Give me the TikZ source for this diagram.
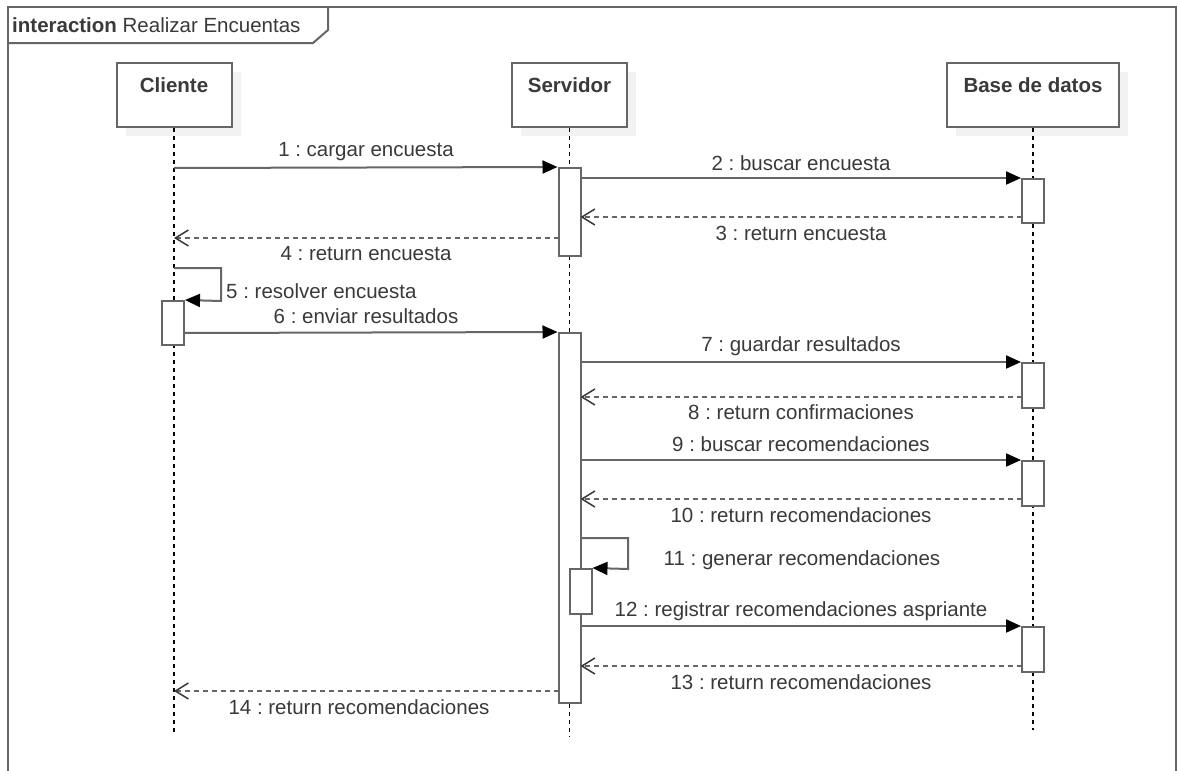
\documentclass[tikz,border=0pt]{standalone}
\usepackage{fontspec}
\setmainfont{Liberation Sans}
\usetikzlibrary{arrows.meta,shadows}
\definecolor{ln}{HTML}{666666}
\definecolor{tx}{HTML}{3A3A3A}
\definecolor{shd}{HTML}{F2F2F2}
\begin{document}
\frenchspacing
\begin{tikzpicture}[x=1pt,y=-1pt,
  every node/.style={text=tx, font=\fontsize{20.5}{24}\selectfont},
  head/.style={draw=ln, line width=2pt, fill=white, minimum width=115pt, inner xsep=0pt, inner ysep=0pt,
    text height=29pt, text depth=35pt, font=\fontsize{20.5}{24}\selectfont\bfseries,
    drop shadow={shadow xshift=9pt, shadow yshift=-9pt, fill=shd, opacity=1}},
  bar/.style={draw=ln, line width=2pt, fill=white, minimum width=22pt, inner sep=0pt},
  lifeline/.style={black, line width=1.5pt, dash pattern=on 4pt off 4pt},
  msg/.style={draw=ln, line width=2pt, -{Triangle[length=15pt,width=13pt,color=black]}},
  ret/.style={draw=ln, line width=2pt, dash pattern=on 5pt off 4pt, -{Straight Barb[length=13pt,width=16pt,line width=1.5pt,color=tx]}},
  lbl/.style={inner sep=0pt},
  frm/.style={draw=ln, line width=2pt}]
\useasboundingbox (0,0) rectangle (1178,771);
\fill[white] (0,0) rectangle (1178,771);

% frame
\draw[frm] (8,775) -- (8,7) -- (1176,7) -- (1176,775);
\draw[frm] (8,43) -- (313,43) -- (328,30) -- (328,7);
\node[anchor=base west, inner sep=0pt] (title) at (12,32) {\textbf{interaction} Realizar Encuentas};

% lifeline heads
\node[head] (cli) at (174,95) {Cliente};
\node[head] (srv) at (569.5,95) {Servidor};
\node[head, minimum width=172pt] (db) at (1033,95) {Base de datos};

% lifeline ends
\coordinate (cliend) at (174,735);
\coordinate (srvend) at (569.5,737);
\coordinate (dbend) at (1033,730);
\draw[lifeline] (cli.south) -- (cliend);
\draw[lifeline] (srv.south) -- (srvend);
\draw[lifeline] (db.south) -- (dbend);

% activation bars
\node[bar, minimum height=88pt] (sb1) at (569.5,212) {};
\node[bar, minimum height=44pt] (db1) at (1033,201) {};
\node[bar, minimum height=44pt] (cb1) at (173,323) {};
\node[bar, minimum height=370pt] (sb2) at (569.5,518) {};
\node[bar, minimum height=45pt] (db2) at (1033,385.5) {};
\node[bar, minimum height=45pt] (db3) at (1033,483.5) {};
\node[bar, minimum height=45pt] (sb3) at (580.5,591.5) {};
\node[bar, minimum height=45pt] (db4) at (1033,649.5) {};

% endpoints
\coordinate (m1a) at (174,168);
\coordinate (r3a) at (1022,217);
\coordinate (r3b) at (580.5,217);
\coordinate (r4a) at (558.5,238);
\coordinate (r4b) at (174,238);
\coordinate (s5a) at (174,268);
\coordinate (s5b) at (221,268);
\coordinate (s5c) at (221,301);
\coordinate (m6a) at (184,333);
\coordinate (r8a) at (1022,397);
\coordinate (r8b) at (580.5,397);
\coordinate (r10a) at (1022,499);
\coordinate (r10b) at (580.5,499);
\coordinate (s11a) at (580.5,538);
\coordinate (s11b) at (628,538);
\coordinate (s11c) at (628,569);
\coordinate (r13a) at (1022,666);
\coordinate (r13b) at (580.5,666);
\coordinate (r14a) at (558.5,691);
\coordinate (r14b) at (174,691);

% messages
\draw[msg] (m1a) -- (sb1.north west);
\draw[msg] (sb1.east |- db1.north) -- (db1.north west);
\draw[ret] (r3a) -- (r3b);
\draw[ret] (r4a) -- (r4b);
\draw[msg] (s5a) -- (s5b) -- (s5c) -- (cb1.north east);
\draw[msg] (m6a) -- (sb2.north west);
\draw[msg] (sb2.east |- db2.north) -- (db2.north west);
\draw[ret] (r8a) -- (r8b);
\draw[msg] (sb2.east |- db3.north) -- (db3.north west);
\draw[ret] (r10a) -- (r10b);
\draw[msg] (s11a) -- (s11b) -- (s11c) -- (sb3.north east);
\draw[msg] (sb2.east |- db4.north) -- (db4.north west);
\draw[ret] (r13a) -- (r13b);
\draw[ret] (r14a) -- (r14b);

% labels
\node[lbl] (l1) at (366,152) {1 : cargar encuesta};
\node[lbl] (l2) at (801,163) {2 : buscar encuesta};
\node[lbl] (l3) at (801,233) {3 : return encuesta};
\node[lbl] (l4) at (366,254) {4 : return encuesta};
\node[lbl, anchor=west] (l5) at (226,291) {5 : resolver encuesta};
\node[lbl] (l6) at (366,316) {6 : enviar resultados};
\node[lbl] (l7) at (801,346) {7 : guardar resultados};
\node[lbl] (l8) at (801,412) {8 : return confirmaciones};
\node[lbl] (l9) at (801,444) {9 : buscar recomendaciones};
\node[lbl] (l10) at (801,515) {10 : return recomendaciones};
\node[lbl] (l11) at (802,560) {11 : generar recomendaciones};
\node[lbl] (l12) at (801,611) {12 : registrar recomendaciones aspriante};
\node[lbl] (l13) at (801,682) {13 : return recomendaciones};
\node[lbl] (l14) at (359,707) {14 : return recomendaciones};
\end{tikzpicture}
\end{document}
